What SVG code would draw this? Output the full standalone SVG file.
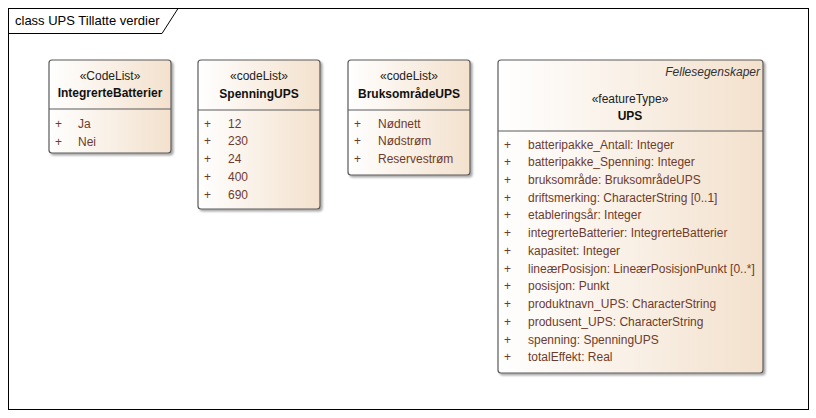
<svg xmlns="http://www.w3.org/2000/svg" width="816" height="418" viewBox="0 0 816 418">
<defs>
<linearGradient id="fill" x1="0" y1="0" x2="1" y2="0">
<stop offset="0" stop-color="#ffffff"/>
<stop offset="1" stop-color="#f3e1cd"/>
</linearGradient>
<filter id="sh" x="-5%" y="-5%" width="115%" height="115%">
<feGaussianBlur in="SourceAlpha" stdDeviation="1.2"/>
<feOffset dx="2" dy="2"/>
<feComponentTransfer><feFuncA type="linear" slope="0.35"/></feComponentTransfer>
<feMerge><feMergeNode/><feMergeNode in="SourceGraphic"/></feMerge>
</filter>
</defs>
<style>
text{font-family:"Liberation Sans","DejaVu Sans",sans-serif;font-size:12px;}
.box{fill:url(#fill);stroke:#5a5a5a;stroke-width:1.2;filter:url(#sh);}
.div{stroke:#5a5a5a;stroke-width:1;}
.st{fill:#222;text-anchor:middle;}
.nm{fill:#111;text-anchor:middle;font-weight:bold;}
.it{fill:#6e3b2c;}
.pl{fill:#6e3b2c;}
.frame{fill:#fff;stroke:#000;stroke-width:1;}
.ital{font-style:italic;fill:#333;text-anchor:end;}
</style>
<rect x="0" y="0" width="816" height="418" fill="#fff"/>
<g id="frame">
<rect class="frame" x="8.5" y="8.5" width="800" height="401"/>
<path d="M8.5 33.5 H162 L178 8.5" fill="none" stroke="#000"/>
<text x="15" y="25" style="font-size:13px;fill:#000">class UPS Tillatte verdier</text>
</g>
<g id="IntegrerteBatterier">
<rect class="box" x="49" y="60" width="122" height="93" rx="3"/>
<line class="div" x1="49" y1="109" x2="171" y2="109"/>
<text class="st" x="110" y="80">«CodeList»</text>
<text class="nm" x="110" y="97">IntegrerteBatterier</text>
<text class="pl" x="55" y="128">+</text><text class="it" x="78" y="128">Ja</text>
<text class="pl" x="55" y="146">+</text><text class="it" x="78" y="146">Nei</text>
</g>
<g id="SpenningUPS">
<rect class="box" x="198" y="60" width="122" height="149" rx="3"/>
<line class="div" x1="198" y1="110" x2="320" y2="110"/>
<text class="st" x="259" y="80">«codeList»</text>
<text class="nm" x="259" y="98">SpenningUPS</text>
<text class="pl" x="204" y="128">+</text><text class="it" x="228" y="128">12</text>
<text class="pl" x="204" y="145">+</text><text class="it" x="228" y="145">230</text>
<text class="pl" x="204" y="163">+</text><text class="it" x="228" y="163">24</text>
<text class="pl" x="204" y="181">+</text><text class="it" x="228" y="181">400</text>
<text class="pl" x="204" y="199">+</text><text class="it" x="228" y="199">690</text>
</g>
<g id="BruksomradeUPS">
<rect class="box" x="348" y="60" width="122" height="115" rx="3"/>
<line class="div" x1="348" y1="110" x2="470" y2="110"/>
<text class="st" x="409" y="80">«codeList»</text>
<text class="nm" x="409" y="98">BruksområdeUPS</text>
<text class="pl" x="354" y="128">+</text><text class="it" x="378" y="128">Nødnett</text>
<text class="pl" x="354" y="145">+</text><text class="it" x="378" y="145">Nødstrøm</text>
<text class="pl" x="354" y="163">+</text><text class="it" x="378" y="163">Reservestrøm</text>
</g>
<g id="UPS">
<rect class="box" x="498" y="60" width="265" height="313" rx="3"/>
<line class="div" x1="498" y1="131" x2="763" y2="131"/>
<text class="ital" x="760" y="76">Fellesegenskaper</text>
<text class="st" x="630" y="103">«featureType»</text>
<text class="nm" x="630" y="120">UPS</text>
<g>
<text class="pl" x="504" y="149">+</text><text class="it" x="528" y="149">batteripakke_Antall: Integer</text>
<text class="pl" x="504" y="166">+</text><text class="it" x="528" y="166">batteripakke_Spenning: Integer</text>
<text class="pl" x="504" y="184">+</text><text class="it" x="528" y="184">bruksområde: BruksområdeUPS</text>
<text class="pl" x="504" y="202">+</text><text class="it" x="528" y="202">driftsmerking: CharacterString [0..1]</text>
<text class="pl" x="504" y="219">+</text><text class="it" x="528" y="219">etableringsår: Integer</text>
<text class="pl" x="504" y="237">+</text><text class="it" x="528" y="237">integrerteBatterier: IntegrerteBatterier</text>
<text class="pl" x="504" y="255">+</text><text class="it" x="528" y="255">kapasitet: Integer</text>
<text class="pl" x="504" y="273">+</text><text class="it" x="528" y="273">lineærPosisjon: LineærPosisjonPunkt [0..*]</text>
<text class="pl" x="504" y="290">+</text><text class="it" x="528" y="290">posisjon: Punkt</text>
<text class="pl" x="504" y="308">+</text><text class="it" x="528" y="308">produktnavn_UPS: CharacterString</text>
<text class="pl" x="504" y="326">+</text><text class="it" x="528" y="326">produsent_UPS: CharacterString</text>
<text class="pl" x="504" y="344">+</text><text class="it" x="528" y="344">spenning: SpenningUPS</text>
<text class="pl" x="504" y="361">+</text><text class="it" x="528" y="361">totalEffekt: Real</text>
</g>
</g>
<g id="connectors"></g>
</svg>
